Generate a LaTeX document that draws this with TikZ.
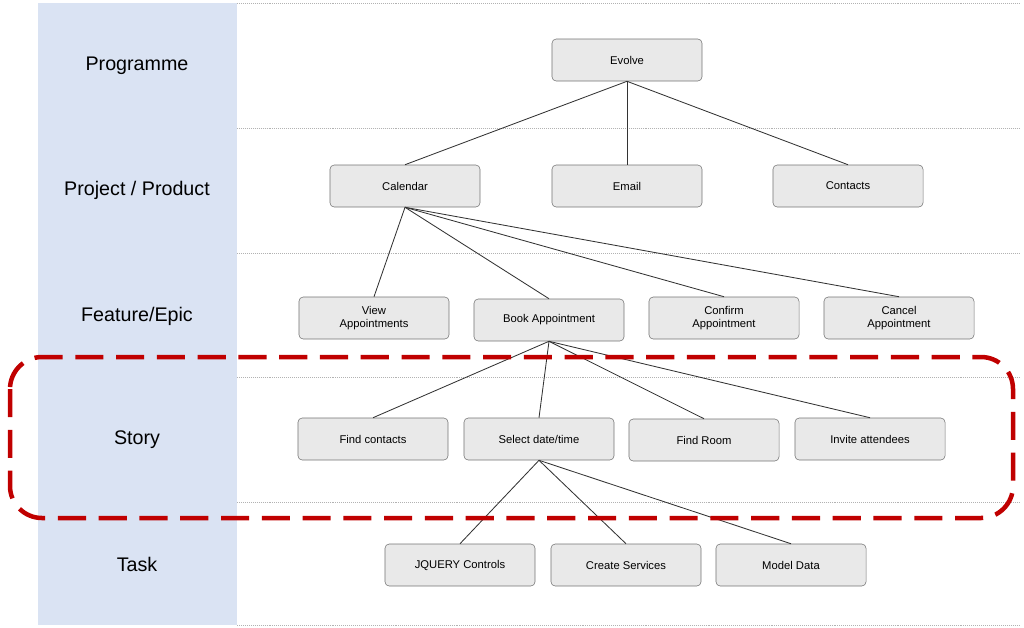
\documentclass[tikz,border=0pt]{standalone}
\usepackage{fontspec}
\setmainfont{Liberation Sans}
\definecolor{bandblue}{HTML}{DAE3F3}
\definecolor{boxgray}{HTML}{E9E9E9}
\definecolor{dashred}{HTML}{C00000}
\begin{document}
\begin{tikzpicture}[x=0.025cm, y=-0.025cm,
  item/.style={draw=black!55, fill=boxgray, rounded corners=3pt, minimum width=3.75cm,
    minimum height=1.05cm, align=center, font=\fontsize{8}{9}\selectfont, inner sep=1pt},
  level/.style={font=\fontsize{14}{16}\selectfont},
  link/.style={draw=black!80, line width=0.6pt}]

\useasboundingbox (0,0) rectangle (1024,627);
\fill[bandblue] (38,3) rectangle (237,625);
% dotted separators
\foreach \yy in {3,128,253,377,502,625}
  \draw[black!30, densely dotted] (237,\yy) -- (1020,\yy);

% level labels
\node[level] (lprog) at (137,66) {Programme};
\node[level] (lproj) at (137,190) {Project / Product};
\node[level] (lfeat) at (137,316) {Feature/Epic};
\node[level] (lstory) at (137,440) {Story};
\node[level] (ltask) at (137,564) {Task};

% tree
\node[item] (evolve) at (627,60) {Evolve};
\node[item] (calendar) at (405,186) {Calendar};
\node[item] (email) at (627,186) {Email};
\node[item] (contacts) at (848,186) {Contacts};

\node[item] (view) at (374,318) {View\\Appointments};
\node[item] (book) at (549,320) {Book Appointment};
\node[item] (confirm) at (724,318) {Confirm\\Appointment};
\node[item] (cancel) at (899,318) {Cancel\\Appointment};

\node[item] (findc) at (373,439) {Find contacts};
\node[item] (select) at (539,439) {Select date/time};
\node[item] (room) at (704,440) {Find Room};
\node[item] (invite) at (870,439) {Invite attendees};

\node[item] (jquery) at (460,565) {JQUERY Controls};
\node[item] (services) at (626,565) {Create Services};
\node[item] (model) at (791,565) {Model Data};

\foreach \c in {calendar,email,contacts}
  \draw[link] (evolve.south) -- (\c.north);
\foreach \c in {view,book,confirm,cancel}
  \draw[link] (calendar.south) -- (\c.north);
\foreach \c in {findc,select,room,invite}
  \draw[link] (book.south) -- (\c.north);
\foreach \c in {jquery,services,model}
  \draw[link] (select.south) -- (\c.north);

% story frame
\draw[dashred, line width=3.2pt, dash pattern=on 20pt off 9pt, rounded corners=0.8cm]
  (10,357) rectangle (1013,518);
\end{tikzpicture}
\end{document}
